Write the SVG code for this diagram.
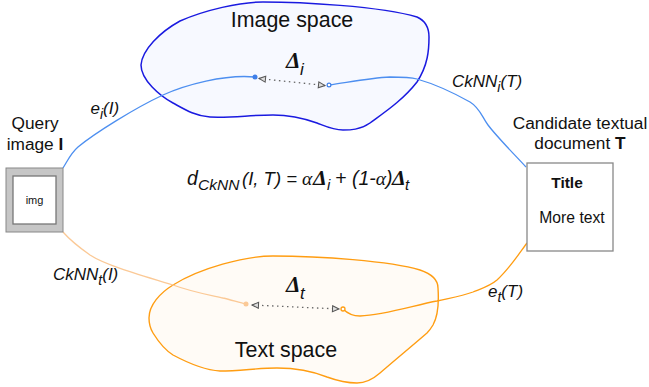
<svg xmlns="http://www.w3.org/2000/svg" width="649" height="387" viewBox="0 0 649 387">
<style>
text{font-family:"Liberation Sans",Arial,sans-serif;fill:#111}
.l{font-size:17.300px}.i{font-size:17px;font-style:italic}
.sp{font-size:21.400px}
.sub{font-size:14px}
.f{font-size:19.500px;font-style:italic}
.d{font-family:"Liberation Serif",serif;font-weight:bold;font-style:italic;font-size:23px}
.ds{font-style:italic;font-size:17px}
.dash{fill:none;stroke:#666;stroke-width:1.300;stroke-dasharray:1.500 3.500;marker-start:url(#a);marker-end:url(#a)}
.con{fill:none;stroke-width:1.300}
</style>
<defs><marker id="a" markerWidth="9" markerHeight="8" refX="7.500" refY="4" orient="auto-start-reverse" markerUnits="userSpaceOnUse"><path d="M1 1L7.500 4L1 7Z" fill="#ddd" stroke="#555" stroke-width="1"/></marker></defs>
<g id="image-space"><path d="M141 65C142 50 160 32 180 21C205 10 240 2 263 2C300 2 380 6 417 17C426 21 429 28 429 37C429 50 428 65 417 82C403 100 385 112 370 123C360 130 350 130 343 130C333 130 325 126 317 123C303 118 288 115 273 115C250 115 232 118 210 117C195 116 184 109 173 103C160 96 141 80 141 65Z" fill="#f7f9ff" stroke="#1a1ae0" stroke-width="1.500"/><text class="sp" x="292" y="27" text-anchor="middle">Image space</text></g>
<g id="text-space"><path d="M149 318C149 305 160 293 173 285C200 268 245 256 273 256C320 256 390 261 420 270C432 274 438 280 438 288C439 303 438 316 433 325C430 330 429 331 427 333C412 346 395 360 380 373C372 380 365 383 357 383C345 383 338 381 327 377C312 371 295 368 277 368C258 368 240 371 220 371C203 370 188 363 173 355C165 350 158 341 153 333C150 328 149 323 149 318Z" fill="#fffbf6" stroke="#ff9d12" stroke-width="1.400"/><text class="sp" x="286" y="357" text-anchor="middle">Text space</text></g>
<g id="connectors">
<path class="con" stroke="#4d8ff0" d="M63 168C68 160 71 153 78 147C95 133 135 108 163 95C185 85 225 74 255 77"/>
<path class="con" stroke="#4d8ff0" d="M329 85C350 82 370 78 390 77C402 77 410 77 417 79C424 81 445 88 470 102C480 108 482 117 488 125C497 137 515 155 526 167"/>
<path class="con" stroke="#fbc996" d="M63 232C70 240 80 248 90 255C105 265 140 275 173 285C195 293 215 296 223 298C232 300 240 303 246 304"/>
<path class="con" stroke="#ff9d12" d="M343 309C347 313 352 316 360 316C385 315 415 305 437 301C450 298 462 296 473 292C483 288 490 286 497 280C510 268 518 255 527 243"/>
<path class="dash" d="M259 78.500L325 85.500"/>
<path class="dash" d="M252 305L339 309"/>
<circle cx="255" cy="77" r="2.500" fill="#3f7fe8"/>
<circle cx="329" cy="85" r="1.900" fill="#fff" stroke="#3f7fe8" stroke-width="1.200"/>
<circle cx="246" cy="304" r="2.500" fill="#fbc996"/>
<circle cx="343" cy="309" r="2" fill="#fff" stroke="#ff9d12" stroke-width="1.300"/>
</g>
<g id="query-image"><rect x="6" y="168" width="57" height="64" fill="#c6c6c6" stroke="#888" stroke-width="1"/><rect x="13" y="176" width="43" height="48" fill="#fff" stroke="#777" stroke-width="1.300"/><text x="34.500" y="204" font-size="11" text-anchor="middle">img</text><text class="l" x="35" y="129" text-anchor="middle">Query</text><text class="l" x="35" y="150" text-anchor="middle">image <tspan font-weight="bold">I</tspan></text></g>
<g id="document"><rect x="527" y="163" width="86" height="88" fill="#fff" stroke="#888" stroke-width="1.300"/><text x="567" y="188" font-size="15.500" font-weight="bold" text-anchor="middle">Title</text><text x="572" y="223" font-size="15.700" text-anchor="middle">More text</text><text class="l" x="580" y="129" text-anchor="middle">Candidate textual</text><text class="l" x="580" y="149" text-anchor="middle">document <tspan font-weight="bold">T</tspan></text></g>
<g id="labels">
<text class="i" x="90.500" y="114">e<tspan class="sub" dy="5">i</tspan><tspan dy="-5">(I)</tspan></text>
<text class="i" x="53" y="280">CkNN<tspan class="sub" dy="5">t</tspan><tspan dy="-5">(I)</tspan></text>
<text class="i" x="452" y="87">CkNN<tspan class="sub" dy="5">i</tspan><tspan dy="-5">(T)</tspan></text>
<text class="i" x="488" y="297">e<tspan class="sub" dy="5">t</tspan><tspan dy="-5">(T)</tspan></text>
<text class="f" x="187" y="185">d</text>
<text class="f" x="198" y="190" style="font-size:15.500px">CkNN</text>
<text class="f" x="242" y="185" style="font-size:18.500px">(I, T) =</text>
<text class="f" x="302" y="185" style="font-family:'Liberation Serif',serif">α</text>
<text class="d" x="313" y="185" style="font-size:22px">Δ</text>
<text class="ds" x="327" y="190" style="font-size:15px">i</text>
<text class="f" x="335" y="185">+</text>
<text class="f" x="352" y="185">(1-<tspan style="font-family:'Liberation Serif',serif">α</tspan>)</text>
<text class="d" x="392" y="185" style="font-size:22px">Δ</text>
<text class="ds" x="405" y="190" style="font-size:15px">t</text>
<text class="d" x="286" y="68">Δ</text>
<text class="ds" x="300" y="75">i</text>
<text class="d" x="286" y="292">Δ</text>
<text class="ds" x="300" y="299">t</text>
</g>
</svg>
